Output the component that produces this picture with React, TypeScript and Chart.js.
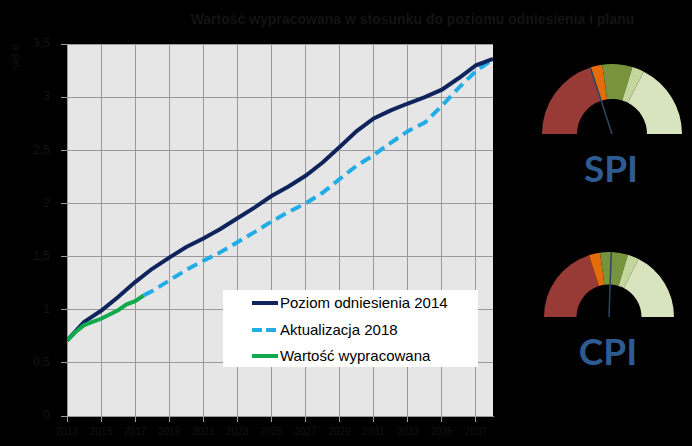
import { useEffect, useRef } from "react";
import { Chart, registerables } from "chart.js";

Chart.register(...registerables);

const TITLE = "Wartość wypracowana w stosunku do poziomu odniesienia i planu";
const Y_TITLE = "mld zł";
const X_TICKS = [2013, 2015, 2017, 2019, 2021, 2023, 2025, 2027, 2029, 2031, 2033, 2035, 2037];

const YEARS = [
  2013, 2014, 2015, 2016, 2017, 2018, 2019, 2020, 2021, 2022, 2023, 2024, 2025,
  2026, 2027, 2028, 2029, 2030, 2031, 2032, 2033, 2034, 2035, 2036, 2037, 2038,
];
const BASELINE_2014 = [
  0.71, 0.885, 0.99, 1.12, 1.26, 1.385, 1.49, 1.59, 1.67, 1.76, 1.86, 1.96, 2.07,
  2.16, 2.26, 2.385, 2.53, 2.68, 2.8, 2.875, 2.94, 3.0, 3.07, 3.18, 3.3, 3.36,
];

const UPDATE_YEARS = [
  2017.5, 2018, 2019, 2020, 2021, 2022, 2023, 2024, 2025, 2026, 2027,
  2028, 2029, 2030, 2031, 2032, 2033, 2034, 2035, 2036, 2037, 2038,
];
const UPDATE_2018 = [
  1.135, 1.175, 1.275, 1.375, 1.46, 1.54, 1.635, 1.73, 1.83, 1.92, 2.0,
  2.1, 2.23, 2.355, 2.455, 2.57, 2.68, 2.76, 2.92, 3.09, 3.245, 3.355,
];

const EARNED_YEARS = [2013, 2013.5, 2014, 2014.5, 2015, 2015.5, 2016, 2016.5, 2017, 2017.5];
const EARNED_VALUE = [0.71, 0.79, 0.855, 0.885, 0.915, 0.955, 0.995, 1.05, 1.08, 1.135];

const SERIES = [
  { name: "Poziom odniesienia 2014", color: "#0f245c", dashed: false },
  { name: "Aktualizacja 2018", color: "#22ade6", dashed: true },
  { name: "Wartość wypracowana", color: "#10a94c", dashed: false },
];

// gauge bands in degrees of the half circle, left to right
const GAUGE_BANDS = [72, 10, 25, 10, 63];
const GAUGE_COLORS = ["#983a36", "#e46c0a", "#77933c", "#c3d69b", "#d8e4bd"];
const SPI_NEEDLE = 72;
const CPI_NEEDLE = 92;

const TEXT = "#141414";
const GRID = "#9a9a9a";
const FONT = "'Liberation Sans', Arial, sans-serif";

const plotBg = {
  id: "plotBg",
  beforeDraw(chart: Chart) {
    const { ctx, chartArea: a } = chart;
    ctx.save();
    ctx.fillStyle = "#e6e6e6";
    ctx.fillRect(a.left, a.top, a.right - a.left, a.bottom - a.top);
    ctx.restore();
  },
};

const needle = {
  id: "needle",
  afterDatasetsDraw(chart: Chart, _args: any, opts: any) {
    const arc: any = chart.getDatasetMeta(0).data[0];
    if (!arc) return;
    const total = GAUGE_BANDS.reduce((s, v) => s + v, 0);
    const a = Math.PI + (opts.value / total) * Math.PI;
    const { ctx } = chart;
    ctx.save();
    ctx.strokeStyle = "#2b4663";
    ctx.lineWidth = 1.5;
    ctx.beginPath();
    ctx.moveTo(arc.x, arc.y);
    ctx.lineTo(arc.x + arc.outerRadius * Math.cos(a), arc.y + arc.outerRadius * Math.sin(a));
    ctx.stroke();
    ctx.restore();
  },
};

function LineChart() {
  const ref = useRef<HTMLCanvasElement>(null);
  useEffect(() => {
    if (!ref.current) return;
    const chart = new Chart(ref.current, {
      type: "line",
      data: {
        datasets: [
          {
            label: SERIES[0].name,
            data: YEARS.map((x, i) => ({ x, y: BASELINE_2014[i] })),
            borderColor: SERIES[0].color,
            borderWidth: 4,
            pointRadius: 0,
            order: 1,
          },
          {
            label: SERIES[1].name,
            data: UPDATE_YEARS.map((x, i) => ({ x, y: UPDATE_2018[i] })),
            borderColor: SERIES[1].color,
            borderWidth: 4,
            borderDash: [11, 6],
            pointRadius: 0,
            order: 2,
          },
          {
            label: SERIES[2].name,
            data: EARNED_YEARS.map((x, i) => ({ x, y: EARNED_VALUE[i] })),
            borderColor: SERIES[2].color,
            borderWidth: 4,
            pointRadius: 0,
            order: 0,
          },
        ],
      },
      options: {
        animation: false,
        responsive: true,
        maintainAspectRatio: false,
        layout: { padding: { top: 44, right: 7, left: 0, bottom: 0 } },
        plugins: { legend: { display: false }, tooltip: { enabled: false } },
        scales: {
          x: {
            type: "linear",
            min: 2013,
            max: 2038,
            afterBuildTicks: (s: any) => {
              s.ticks = X_TICKS.map((v) => ({ value: v }));
            },
            afterFit: (s: any) => {
              s.height = 30;
            },
            grid: { color: GRID, tickLength: 6 },
            border: { color: GRID },
            ticks: {
              color: TEXT,
              font: { size: 10, family: FONT },
              padding: 4,
              maxRotation: 0,
              autoSkip: false,
              callback: (v: any) => String(v),
            },
          },
          y: {
            min: 0,
            max: 3.5,
            afterFit: (s: any) => {
              s.width = 67;
            },
            grid: { color: GRID, tickLength: 6 },
            border: { color: GRID },
            ticks: {
              stepSize: 0.5,
              color: TEXT,
              font: { size: 12, family: FONT },
              padding: 11,
              callback: (v: any) => String(v).replace(".", ","),
            },
            title: {
              display: true,
              text: Y_TITLE,
              align: "end",
              color: TEXT,
              font: { size: 10, family: FONT },
              padding: { top: 10, bottom: 0 },
            },
          },
        },
      },
      plugins: [plotBg],
    });
    return () => chart.destroy();
  }, []);
  return (
    <div style={{ position: "absolute", left: 0, top: 0, width: 500, height: 446 }}>
      <canvas ref={ref} />
    </div>
  );
}

function Gauge({ value, left, top, size }: { value: number; left: number; top: number; size: number }) {
  const ref = useRef<HTMLCanvasElement>(null);
  useEffect(() => {
    if (!ref.current) return;
    const chart = new Chart(ref.current, {
      type: "doughnut",
      data: {
        labels: GAUGE_COLORS,
        datasets: [{ data: GAUGE_BANDS, backgroundColor: GAUGE_COLORS, borderWidth: 0 }],
      },
      options: {
        animation: false,
        responsive: true,
        maintainAspectRatio: false,
        rotation: -90,
        circumference: 180,
        cutout: "50%",
        plugins: { legend: { display: false }, tooltip: { enabled: false }, needle: { value } } as any,
      },
      plugins: [needle],
    });
    return () => chart.destroy();
  }, [value]);
  return (
    <div style={{ position: "absolute", left, top, width: size * 2, height: size }}>
      <canvas ref={ref} />
    </div>
  );
}

function Legend() {
  return (
    <div
      style={{
        position: "absolute",
        left: 223,
        top: 290,
        width: 255,
        height: 77,
        background: "#fff",
        fontFamily: FONT,
        fontSize: 15,
        color: "#000",
      }}
    >
      {SERIES.map((s, i) => (
        <div
          key={s.name}
          style={{ position: "absolute", left: 29, top: 4 + i * 26.6, height: 18, lineHeight: "18px", display: "flex", alignItems: "center", whiteSpace: "nowrap" }}
        >
          <span
            style={{
              display: "inline-block",
              width: 26,
              height: 4,
              marginRight: 2,
              background: s.dashed
                ? `repeating-linear-gradient(90deg, ${s.color} 0 10px, transparent 10px 14px)`
                : s.color,
            }}
          />
          {s.name}
        </div>
      ))}
    </div>
  );
}

const gaugeLabel = {
  position: "absolute" as const,
  width: 140,
  textAlign: "center" as const,
  fontFamily: "Lato, 'Open Sans', sans-serif",
  fontWeight: 700,
  fontSize: 37,
  lineHeight: "37px",
  color: "#2e5b92",
};

export default function App() {
  return (
    <div style={{ position: "absolute", left: 0, top: 0, width: 692, height: 446, background: "#000", overflow: "hidden" }}>
      <LineChart />
      <div
        style={{
          position: "absolute",
          left: 150,
          top: 11,
          width: 525,
          textAlign: "center",
          fontFamily: FONT,
          fontWeight: 700,
          fontSize: 14,
          lineHeight: "16px",
          color: TEXT,
          whiteSpace: "nowrap",
        }}
      >
        {TITLE}
      </div>
      <Legend />
      <Gauge value={SPI_NEEDLE} left={542} top={64} size={70} />
      <Gauge value={CPI_NEEDLE} left={544} top={252} size={65} />
      <div style={{ ...gaugeLabel, left: 541, top: 149 }}>SPI</div>
      <div style={{ ...gaugeLabel, left: 538, top: 332 }}>CPI</div>
    </div>
  );
}
